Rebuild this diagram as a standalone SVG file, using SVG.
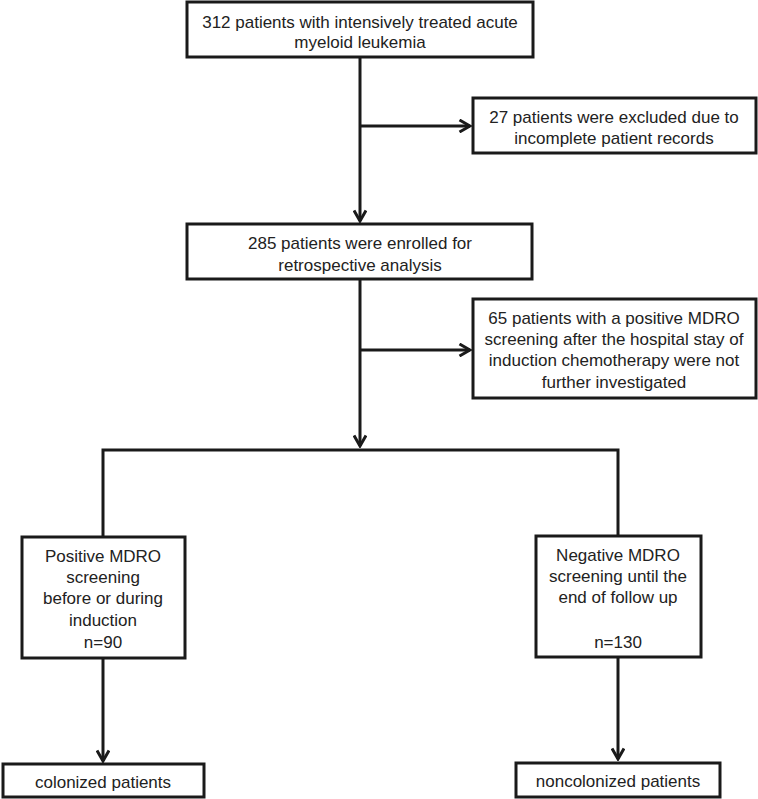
<svg xmlns="http://www.w3.org/2000/svg" width="758" height="799" viewBox="0 0 758 799">
<defs>
<style>
.box{fill:#fff;stroke:#1a1a1a;stroke-width:3}
.ln{fill:none;stroke:#1a1a1a;stroke-width:3}
text{font-family:"Liberation Sans",Arial,sans-serif;font-size:17px;fill:#222;text-anchor:middle;dominant-baseline:central}
</style>
<marker id="ah" viewBox="0 0 14 14" refX="12" refY="7" markerWidth="14" markerHeight="14" markerUnits="userSpaceOnUse" orient="auto">
<path d="M1.5,1 L12,7 L1.5,13" fill="none" stroke="#1a1a1a" stroke-width="3"/>
</marker>
</defs>
<rect width="758" height="799" fill="#fff"/>
<g id="connectors">
<line class="ln" x1="360" y1="57" x2="360" y2="221" marker-end="url(#ah)"/>
<line class="ln" x1="360" y1="126" x2="470" y2="126" marker-end="url(#ah)"/>
<line class="ln" x1="360" y1="279" x2="360" y2="446" marker-end="url(#ah)"/>
<line class="ln" x1="360" y1="350" x2="470" y2="350" marker-end="url(#ah)"/>
<polyline class="ln" points="103,537 103,450 618,450 618,537"/>
<line class="ln" x1="103" y1="658" x2="103" y2="761" marker-end="url(#ah)"/>
<line class="ln" x1="618" y1="657" x2="618" y2="759" marker-end="url(#ah)"/>
</g>
<g id="n1">
<rect class="box" x="187" y="2" width="346" height="55"/>
<text x="360" y="22">312 patients with intensively treated acute</text>
<text x="360" y="42">myeloid leukemia</text>
</g>
<g id="n2">
<rect class="box" x="473" y="98" width="283" height="55"/>
<text x="614" y="117">27 patients were excluded due to</text>
<text x="614" y="138">incomplete patient records</text>
</g>
<g id="n3">
<rect class="box" x="187" y="224" width="345" height="55"/>
<text x="360" y="243">285 patients were enrolled for</text>
<text x="360" y="265">retrospective analysis</text>
</g>
<g id="n4">
<rect class="box" x="473" y="299" width="283" height="99"/>
<text x="614" y="318">65 patients with a positive MDRO</text>
<text x="614" y="339">screening after the hospital stay of</text>
<text x="614" y="360">induction chemotherapy were not</text>
<text x="614" y="382">further investigated</text>
</g>
<g id="n5">
<rect class="box" x="22" y="537" width="163" height="121"/>
<text x="103" y="556">Positive MDRO</text>
<text x="103" y="577">screening</text>
<text x="103" y="598">before or during</text>
<text x="103" y="620">induction</text>
<text x="103" y="642">n=90</text>
</g>
<g id="n6">
<rect class="box" x="536" y="536" width="165" height="121"/>
<text x="618" y="555">Negative MDRO</text>
<text x="618" y="576">screening until the</text>
<text x="618" y="597">end of follow up</text>
<text x="618" y="642">n=130</text>
</g>
<g id="n7">
<rect class="box" x="3" y="764" width="201" height="33"/>
<text x="103" y="782">colonized patients</text>
</g>
<g id="n8">
<rect class="box" x="516" y="763" width="204" height="34"/>
<text x="618" y="781">noncolonized patients</text>
</g>
</svg>
